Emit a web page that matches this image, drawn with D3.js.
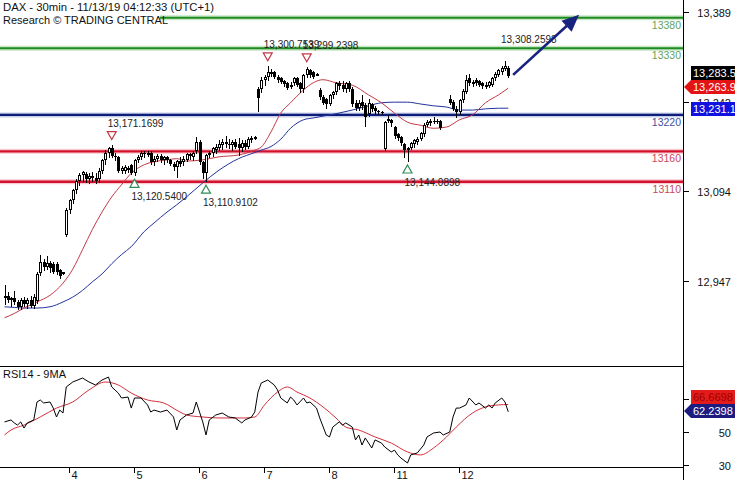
<!DOCTYPE html>
<html><head><meta charset="utf-8">
<script src="https://cdn.jsdelivr.net/npm/d3@7"></script>
<style>body{margin:0;background:#fff}svg{display:block;font-family:"Liberation Sans",Arial,sans-serif}</style>
</head><body><svg id="c" width="735" height="480"></svg>
<script>
const title = "DAX - 30min - 11/13/19 04:12:33 (UTC+1)";
const credit = "Research © TRADING CENTRAL";
const rsiTitle = "RSI14 - 9MA";

const openP = [12918,12922,12915,12918,12912,12904,12915,12908,12916,12906,
12914,12960,12978,12970,12976,12975,12974,12964,12960,13022,
13063,13080,13096,13112,13121,13122,13114,13120,13116,13114,
13128,13145,13158,13166,13152,13150,13128,13128,13133,13138,
13124,13146,13151,13157,13155,13158,13143,13148,13152,13146,
13150,13146,13140,13134,13144,13142,13146,13155,13150,13160,
13176,13142,13124,13154,13157,13162,13166,13170,13176,13172,
13170,13175,13172,13166,13174,13168,13178,13182,13262,13262,
13278,13282,13290,13290,13282,13280,13276,13272,13268,13272,
13280,13272,13262,13286,13294,13290,13288,13261,13250,13246,
13238,13252,13258,13272,13270,13262,13272,13262,13240,13232,
13242,13236,13222,13238,13232,13226,13225,13164,13214,13212,
13200,13188,13184,13172,13162,13166,13172,13176,13180,13188,
13204,13208,13210,13210,13210,null,null,13247,13242,13230,
13224,13244,13258,13280,13274,13278,13276,13272,13268,13268,
13270,13280,13286,13290,13296,13298];
const highP = [12940,12928,12920,12930,12916,12918,12920,12918,12922,12925,
12962,12989,12982,12987,12980,12978,12977,12966,12962,13066,
13082,13098,13115,13124,13128,13126,13124,13126,13124,13132,
13148,13162,13168,13171.1699,13158,13152,13136,13138,13136,13140,
13148,13154,13160,13160,13160,13160,13152,13155,13156,13152,
13153,13148,13143,13146,13150,13152,13158,13158,13160,13184,
13178,13144,13156,13160,13168,13172,13178,13180,13186,13180,
13178,13180,13182,13178,13178,13184,13186,13186,13266,13282,
13286,13300.7539,13296,13292,13285,13282,13278,13274,13274,13283,
13282,13274,13288,13299.2398,13296,13292,13289,13264,13252,13248,
13254,13260,13274,13276,13276,13275,13276,13266,13244,13244,
13252,13240,13246,13240,13234,13228,13227,13210,13220,13214,
13202,13190,13186,13174,13168,13176,13180,13184,13192,13206,
13212,13214,13216,13213,13212,null,null,13252,13244,13234,
13246,13262,13286,13288,13278,13280,13278,13274,13274,13276,
13282,13290,13296,13300,13308.2598,13300];
const lowP = [12908,12912,12905,12908,12900,12900,12906,12902,12904,12902,
12910,12956,12965,12966,12962,12960,12958,12952,12958,13020,
13058,13075,13092,13105,13112,13110,13108,13112,13108,13110,
13125,13140,13150,13150,13145,13126,13124,13125,13126,13122,
13120.54,13142,13148,13150,13152,13140,13138,13144,13142,13140,
13142,13138,13130,13118,13136,13138,13144,13148,13146,13158,
13140,13116,13110.9102,13150,13152,13158,13162,13164,13168,13166,
13162,13165,13154,13160,13164,13166,13175,13180,13226,13258,
13270,13278,13284,13280,13274,13272,13268,13262,13264,13270,
13268,13258,13258,13282,13283,13280,13287,13246,13238,13231,
13236,13248,13255,13262,13260,13258,13260,13234,13228,13228,
13230,13202,13218,13226,13222,13222,13222,13162,13208,13202,
13182,13178,13170,13150,13144.0898,13164,13168,13172,13178,13186,
13202,13204,13206,13206,13196,null,null,13238,13228,13216,
13222,13242,13256,13270,13268,13270,13268,13264,13264,13266,
13268,13278,13284,13288,13294,13282];
const closeP = [12922,12915,12918,12912,12904,12915,12908,12916,12906,12920,
12958,12978,12970,12976,12968,12962,12962,12955,12961,13063,
13080,13096,13112,13121,13126,13114,13120,13116,13112,13128,
13145,13158,13165,13152,13150,13128,13132,13135,13130,13124,
13146,13151,13157,13155,13158,13143,13148,13152,13146,13150,
13145,13140,13134,13144,13140,13148,13156,13152,13158,13176,
13142,13124,13154,13157,13165,13168,13172,13176,13172,13170,
13175,13168,13166,13174,13168,13180,13182,13183,13248,13278,
13282,13290,13288,13282,13277,13275,13271,13265,13270,13280,
13270,13262,13286,13296,13286,13283,13288,13250,13240,13238,
13252,13258,13272,13268,13262,13272,13262,13238,13232,13240,
13234,13216,13240,13230,13226,13225,13224,13208,13210,13206,
13185,13182,13174,13162,13166,13174,13178,13181,13190,13204,
13208,13210,13208,13209,13198,null,null,13240,13230,13224,
13244,13260,13278,13272,13275,13272,13270,13268,13270,13274,
13280,13288,13294,13297,13300,13283.5];

const dayTickIdx = [20,40,60,80,100,120,140];
const dayTickLbl = ["4","5","6","7","8","11","12"];
const priceTicks = [12947,13094,13242,13389];
const levelVal = [13380,13330,13220,13160,13110];
const levelKind = ["res","res","pivot","sup","sup"];

const maIdx = [0,3,6,10,14,18,21,24,27,30,33,36,39,43,46,50,53,56,61,66,72,77,79,82,85,88,92,95,98,102,107,112,116,120,124,128,132,136,140,144,148,152,155];
const maFast = [12886,12893,12902,12912,12923,12943,12966,12998,13031,13060,13085,13105,13124,13138,13143,13146,13148,13144,13146,13151,13154,13162,13167,13192,13223,13240,13261,13273,13278,13273,13269,13253,13240,13223,13208,13203,13198,13200,13212,13220,13240,13253,13264];
const maSlow = [12904,12903,12902,12902,12904,12912,12920,12931,12945,12958,12975,12990,13003,13028,13042,13060,13072,13085,13108,13129,13148,13158,13162,13168,13180,13198,13212,13215,13218,13222,13228,13235,13240,13241,13241,13238,13235,13233,13228,13228,13230,13231,13231.1];

const rsiIdx = [0,2,3,4,5,6,7,9,10,11,12,14,15,16,17,18,19,21,24,26,28,30,32,33,35,36,38,39,40,42,44,45,46,48,50,52,53,54,56,58,59,61,62,63,65,67,69,71,73,74,76,77,78,79,81,83,84,85,87,88,89,90,92,93,94,96,97,99,100,101,103,104,105,107,108,109,110,111,113,114,116,117,119,120,121,122,124,125,127,129,130,132,134,135,137,138,139,140,142,143,145,146,148,149,150,151,153,154,155];
const rsiVal = [56.1,57.3,55.5,54.2,56.1,52.4,55.5,57.3,68.2,69.4,67.6,68.2,64.5,59.1,63.3,61.5,77.3,80.3,82.7,80.3,78.5,81.5,83.3,77.3,73.6,70.6,71.2,64.5,70.6,70.6,66.4,62.1,63.3,62.1,63.3,59.1,51.2,57.3,60.3,61.5,68.2,56.1,48.2,57.3,60.3,61.5,59.1,58.5,55.5,57.3,59.1,62.1,74.2,79.7,81.5,78.5,75.5,70.6,67.6,71.2,69.4,66.4,70.6,67.6,68.2,64.5,58.5,48.2,47.0,53.0,56.1,54.2,55.5,53.0,45.2,48.2,42.1,46.4,40.3,45.2,43.3,40.9,37.9,39.0,36.1,34.2,31.2,36.1,37.3,42.1,47.0,49.4,50.0,48.2,50.0,59.1,64.5,64.5,66.4,70.6,66.4,67.6,64.5,66.4,64.5,67.6,70.6,68.2,62.24];
const rsiMaIdx = [0,2,6,11,16,21,26,31,35,39,44,49,54,56,61,66,74,77,80,84,87,90,94,98,102,105,109,114,119,124,128,132,136,139,144,148,152,155];
const rsiMaVal = [48.2,51.2,54.2,59.1,64.5,68.2,75.5,80.3,78.5,73.6,69.4,67.6,62.1,60.3,59.1,58.5,58.5,59.1,66.4,74.2,77.3,74.2,70.6,65.2,58.5,53.0,51.2,47.0,43.3,37.9,36.1,40.3,47.0,53.0,61.5,65.2,66.4,66.67];
const rsiTicks = [30,50,70];
const rsiTickLbl = ["30","50",""];

const peakIdx = [33,81,93,154];
const peakVal = [13171.1699,13300.7539,13299.2398,13308.2598];
const peakMark = [true,true,true,false];
const troughIdx = [40,62,124];
const troughVal = [13120.54,13110.9102,13144.0898];

const lastClose = 13283.5, lastFastLbl = "13,263.9", lastSlow = 13231.1;
const lastRsi = 62.2398, lastRsiMa = 66.6698;
const arrowIdx = [156.5,176.8];
const arrowVal = [13286,13385];

// ---------- drawing ----------
const svg = d3.select("#c");
const AX = 683;
const x = d3.scaleLinear().domain([0,155]).range([4.5,508.25]);
const y = d3.scaleLinear().domain([12947,13389]).range([280.7,12.3]);
const yr = d3.scaleLinear().domain([30,70]).range([465,399]);
const fmt4 = d3.format(",.4f");
const fmt0 = d3.format(",.0f");

const lvlStyle = {
  res:{line:"#1f8c22", glow:"#c6e6c6", lbl:"#5fa35f", w:2},
  pivot:{line:"#0c1d7a", glow:"#c8cde8", lbl:"#3e52a0", w:2.2},
  sup:{line:"#d3132d", glow:"#f7c9d1", lbl:"#c8485c", w:2.4}
};
const gL = svg.append("g");
levelVal.forEach((v,k)=>{
  const s = lvlStyle[levelKind[k]];
  const yy = y(v);
  gL.append("line").attr("x1",0).attr("x2",AX).attr("y1",yy).attr("y2",yy)
    .attr("stroke",s.glow).attr("stroke-width",5);
  gL.append("line").attr("x1",0).attr("x2",AX).attr("y1",yy).attr("y2",yy)
    .attr("stroke",s.line).attr("stroke-width",s.w);
  gL.append("text").attr("x",681).attr("y",yy+11).attr("text-anchor","end")
    .attr("font-size",10.5).attr("fill",s.lbl).text(String(v));
});

// header
svg.append("rect").attr("x",0).attr("y",0).attr("width",160).attr("height",26).attr("fill","#fff");
svg.append("text").attr("x",3).attr("y",11).attr("font-size",11.3).attr("fill","#111").text(title);
svg.append("text").attr("x",3).attr("y",24).attr("font-size",11).attr("fill","#111").text(credit);

// moving averages
const mline = d3.line().x(d=>x(d[0])).y(d=>y(d[1])).curve(d3.curveMonotoneX);
svg.append("path").attr("d",mline(maIdx.map((i,k)=>[i,maSlow[k]])))
  .attr("fill","none").attr("stroke","#2233a0").attr("stroke-width",1);
svg.append("path").attr("d",mline(maIdx.map((i,k)=>[i,maFast[k]])))
  .attr("fill","none").attr("stroke","#c23a48").attr("stroke-width",1);

// candles
const gC = svg.append("g");
closeP.forEach((c,i)=>{
  if(c==null) return;
  const o=openP[i], h=highP[i], l=lowP[i];
  const px = Math.round(x(i));
  gC.append("line").attr("x1",px+0.5).attr("x2",px+0.5)
    .attr("y1",Math.round(y(h))).attr("y2",Math.round(y(l))+1)
    .attr("stroke","#000").attr("stroke-width",1);
  const top = Math.round(y(Math.max(o,c))), bot = Math.round(y(Math.min(o,c)));
  const hgt = Math.max(1, bot-top);
  if(c>=o){
    gC.append("rect").attr("x",px-0.5).attr("y",top+0.5).attr("width",2).attr("height",Math.max(1,hgt-1))
      .attr("fill","#fff").attr("stroke","#000").attr("stroke-width",1);
  } else {
    gC.append("rect").attr("x",px-1).attr("y",top).attr("width",3).attr("height",hgt).attr("fill","#000");
  }
});

// peak / trough markers
const gM = svg.append("g").attr("font-size",10).attr("fill","#222");
peakIdx.forEach((i,k)=>{
  const cx = x(i), hy = y(peakVal[k]);
  if(peakMark[k]){
    const cy = hy-9;
    gM.append("path").attr("d",`M${cx-4.5},${cy-4}L${cx+4.5},${cy-4}L${cx},${cy+4}Z`)
      .attr("fill","#fff").attr("stroke","#c23a48").attr("stroke-width",1.2);
  }
  gM.append("text").attr("x",cx-4).attr("y",hy-18).text(fmt4(peakVal[k]));
});
troughIdx.forEach((i,k)=>{
  const cx = x(i), ly = y(troughVal[k]);
  const cy = ly+8;
  gM.append("path").attr("d",`M${cx-4.5},${cy+4}L${cx+4.5},${cy+4}L${cx},${cy-4}Z`)
    .attr("fill","#fff").attr("stroke","#2e8b57").attr("stroke-width",1.2);
  gM.append("text").attr("x",cx-3).attr("y",ly+25).text(fmt4(troughVal[k]));
});

// forecast arrow
{
  const x1=x(arrowIdx[0]), y1=y(arrowVal[0]), x2=x(arrowIdx[1]), y2=y(arrowVal[1]);
  const ang = Math.atan2(y2-y1,x2-x1), L=17, W=7.5;
  const bx = x2-L*Math.cos(ang), by = y2-L*Math.sin(ang);
  svg.append("line").attr("x1",x1).attr("y1",y1).attr("x2",bx+2*Math.cos(ang)).attr("y2",by+2*Math.sin(ang))
    .attr("stroke","#17237e").attr("stroke-width",2.6);
  const nx=-Math.sin(ang), ny=Math.cos(ang);
  svg.append("path").attr("d",`M${x2},${y2}L${bx+nx*W},${by+ny*W}L${bx-nx*W},${by-ny*W}Z`).attr("fill","#17237e");
}

// RSI panel
svg.append("line").attr("x1",0).attr("x2",AX).attr("y1",366.5).attr("y2",366.5).attr("stroke","#000");
svg.append("text").attr("x",3).attr("y",378).attr("font-size",11).attr("fill","#111").text(rsiTitle);
const rline = d3.line().x(d=>x(d[0])).y(d=>yr(d[1]));
const rmaLine = d3.line().x(d=>x(d[0])).y(d=>yr(d[1])).curve(d3.curveMonotoneX);
svg.append("path").attr("d",rmaLine(rsiMaIdx.map((i,k)=>[i,rsiMaVal[k]]))).attr("fill","none")
  .attr("stroke","#d2303c").attr("stroke-width",1);
svg.append("path").attr("d",rline(rsiIdx.map((i,k)=>[i,rsiVal[k]]))).attr("fill","none")
  .attr("stroke","#000").attr("stroke-width",1);

// bottom axis
svg.append("line").attr("x1",0).attr("x2",AX).attr("y1",467.5).attr("y2",467.5).attr("stroke","#000");
dayTickIdx.forEach((i,k)=>{
  const px = Math.round(x(i))-0.5;
  svg.append("line").attr("x1",px).attr("x2",px).attr("y1",468).attr("y2",473).attr("stroke","#000");
  svg.append("text").attr("x",px+2).attr("y",479).attr("font-size",11).attr("fill","#111").text(dayTickLbl[k]);
});

// right axis
svg.append("line").attr("x1",AX+0.5).attr("x2",AX+0.5).attr("y1",0).attr("y2",480).attr("stroke","#000");
priceTicks.forEach(v=>{
  const yy = Math.round(y(v))+0.5;
  svg.append("line").attr("x1",AX).attr("x2",AX+6).attr("y1",yy).attr("y2",yy).attr("stroke","#000");
  svg.append("text").attr("x",731).attr("y",yy+4).attr("text-anchor","end").attr("font-size",11).attr("fill","#111").text(fmt0(v));
});
rsiTicks.forEach((v,k)=>{
  const yy = Math.round(yr(v))+0.5;
  svg.append("line").attr("x1",AX).attr("x2",AX+6).attr("y1",yy).attr("y2",yy).attr("stroke","#000");
  if(rsiTickLbl[k]) svg.append("text").attr("x",731).attr("y",yy+4).attr("text-anchor","end").attr("font-size",11).attr("fill","#111").text(rsiTickLbl[k]);
});

// value boxes
function box(yc, fill, txt, txtFill, arrow){
  const top=yc-7, bot=yc+7;
  const d = arrow ? `M${AX+1},${yc}L${AX+8},${top}L735,${top}L735,${bot}L${AX+8},${bot}Z`
                  : `M${AX+8},${top}L735,${top}L735,${bot}L${AX+8},${bot}Z`;
  svg.append("path").attr("d",d).attr("fill",fill);
  svg.append("text").attr("x",AX+10).attr("y",yc+4).attr("font-size",11).attr("fill",txtFill).text(txt);
}
box(87, "#e51414", lastFastLbl, "#fff", true);
box(73, "#000", d3.format(",.1f")(lastClose), "#fff", false);
box(109, "#1212e0", d3.format(",.1f")(lastSlow), "#fff", false);
box(397, "#e31b1b", d3.format(".4f")(lastRsiMa), "#a00000", false);
box(411, "#1b1b80", d3.format(".4f")(lastRsi), "#fff", true);
</script></body></html>
